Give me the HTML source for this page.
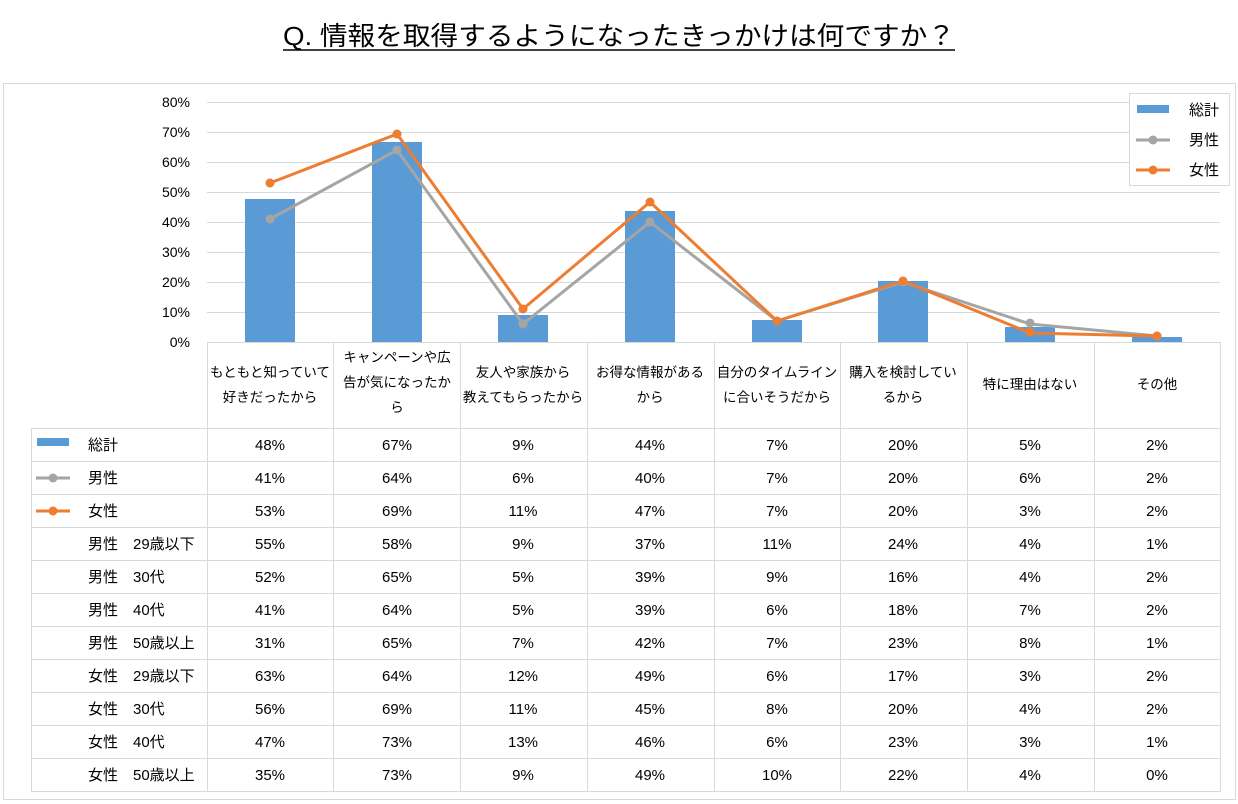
<!DOCTYPE html>
<html><head><meta charset="utf-8"><style>
body{margin:0;background:#fff;}
svg{display:block;font-family:"Liberation Sans","Noto Sans CJK JP",sans-serif;}
</style></head><body>
<svg width="1238" height="804" viewBox="0 0 1238 804" xmlns="http://www.w3.org/2000/svg">
<text x="283" y="45" font-size="26" textLength="672" lengthAdjust="spacingAndGlyphs" fill="#000">Q. 情報を取得するようになったきっかけは何ですか？</text>
<line x1="283" y1="50" x2="955" y2="50" stroke="#000" stroke-width="1.5"/>
<rect x="3.5" y="83.5" width="1232" height="716" fill="#fff" stroke="#d9d9d9"/>
<g stroke="#d9d9d9" stroke-width="1">
<line x1="207" y1="102.5" x2="1220" y2="102.5"/><line x1="207" y1="132.5" x2="1220" y2="132.5"/>
<line x1="207" y1="162.5" x2="1220" y2="162.5"/><line x1="207" y1="192.5" x2="1220" y2="192.5"/>
<line x1="207" y1="222.5" x2="1220" y2="222.5"/><line x1="207" y1="252.5" x2="1220" y2="252.5"/>
<line x1="207" y1="282.5" x2="1220" y2="282.5"/><line x1="207" y1="312.5" x2="1220" y2="312.5"/>
</g>
<g font-size="14" fill="#000" text-anchor="end">
<text x="190" y="107">80%</text><text x="190" y="137">70%</text><text x="190" y="167">60%</text>
<text x="190" y="197">50%</text><text x="190" y="227">40%</text><text x="190" y="257">30%</text>
<text x="190" y="287">20%</text><text x="190" y="317">10%</text><text x="190" y="347">0%</text>
</g>
<g fill="#5b9bd5">
<rect x="245" y="199" width="50" height="143"/>
<rect x="372" y="142" width="50" height="200"/>
<rect x="498" y="315" width="50" height="27"/>
<rect x="625" y="211" width="50" height="131"/>
<rect x="752" y="320" width="50" height="22"/>
<rect x="878" y="281" width="50" height="61"/>
<rect x="1005" y="327" width="50" height="15"/>
<rect x="1132" y="337" width="50" height="5"/>
</g>
<g fill="none" stroke-width="3" stroke-linejoin="round">
<polyline stroke="#a5a5a5" points="270,219 397,150 523,324 650,222 777,321 903,282 1030,324 1157,336"/>
<polyline stroke="#ed7d31" points="270,183 397,134 523,309 650,202 777,321 903,281 1030,333 1157,336"/>
</g>
<g fill="#a5a5a5">
<circle cx="270" cy="219" r="4.5"/><circle cx="397" cy="150" r="4.5"/><circle cx="523" cy="324" r="4.5"/><circle cx="650" cy="222" r="4.5"/><circle cx="777" cy="321" r="4.5"/><circle cx="903" cy="282" r="4.5"/><circle cx="1030" cy="323" r="4.5"/><circle cx="1157" cy="336" r="4.5"/>
</g>
<g fill="#ed7d31">
<circle cx="270" cy="183" r="4.5"/><circle cx="397" cy="134" r="4.5"/><circle cx="523" cy="309" r="4.5"/><circle cx="650" cy="202" r="4.5"/><circle cx="777" cy="321" r="4.5"/><circle cx="903" cy="281" r="4.5"/><circle cx="1030" cy="332" r="4.5"/><circle cx="1157" cy="336" r="4.5"/>
</g>
<rect x="1129.5" y="93.5" width="100" height="92" fill="#fff" stroke="#d9d9d9"/>
<rect x="1137" y="105" width="32" height="8" fill="#5b9bd5"/>
<line x1="1136" y1="140" x2="1170" y2="140" stroke="#a5a5a5" stroke-width="3"/><circle cx="1153" cy="140" r="4.5" fill="#a5a5a5"/>
<line x1="1136" y1="170" x2="1170" y2="170" stroke="#ed7d31" stroke-width="3"/><circle cx="1153" cy="170" r="4.5" fill="#ed7d31"/>
<g font-size="15" fill="#000"><text x="1189" y="115">総計</text><text x="1189" y="145">男性</text><text x="1189" y="175">女性</text></g>
<g stroke="#d9d9d9" stroke-width="1" fill="none">
<line x1="207" y1="342.5" x2="1220" y2="342.5"/>
<line x1="31" y1="428.5" x2="1220" y2="428.5"/>
<line x1="31" y1="461.5" x2="1220" y2="461.5"/><line x1="31" y1="494.5" x2="1220" y2="494.5"/>
<line x1="31" y1="527.5" x2="1220" y2="527.5"/><line x1="31" y1="560.5" x2="1220" y2="560.5"/>
<line x1="31" y1="593.5" x2="1220" y2="593.5"/><line x1="31" y1="626.5" x2="1220" y2="626.5"/>
<line x1="31" y1="659.5" x2="1220" y2="659.5"/><line x1="31" y1="692.5" x2="1220" y2="692.5"/>
<line x1="31" y1="725.5" x2="1220" y2="725.5"/><line x1="31" y1="758.5" x2="1220" y2="758.5"/>
<line x1="31" y1="791.5" x2="1220" y2="791.5"/>
<line x1="31.5" y1="428" x2="31.5" y2="792"/>
<line x1="207.5" y1="342" x2="207.5" y2="792"/><line x1="333.5" y1="342" x2="333.5" y2="792"/>
<line x1="460.5" y1="342" x2="460.5" y2="792"/><line x1="587.5" y1="342" x2="587.5" y2="792"/>
<line x1="714.5" y1="342" x2="714.5" y2="792"/><line x1="840.5" y1="342" x2="840.5" y2="792"/>
<line x1="967.5" y1="342" x2="967.5" y2="792"/><line x1="1094.5" y1="342" x2="1094.5" y2="792"/>
<line x1="1220.5" y1="342" x2="1220.5" y2="792"/>
</g>
<g font-size="13.5" fill="#000" text-anchor="middle">
<text x="270" y="377">もともと知っていて</text><text x="270" y="402">好きだったから</text>
<text x="397" y="362">キャンペーンや広</text><text x="397" y="387">告が気になったか</text><text x="397" y="412">ら</text>
<text x="523" y="377">友人や家族から</text><text x="523" y="402">教えてもらったから</text>
<text x="650" y="377">お得な情報がある</text><text x="650" y="402">から</text>
<text x="777" y="377">自分のタイムライン</text><text x="777" y="402">に合いそうだから</text>
<text x="903" y="377">購入を検討してい</text><text x="903" y="402">るから</text>
<text x="1030" y="389">特に理由はない</text>
<text x="1157" y="389">その他</text>
</g>
<rect x="37" y="438" width="32" height="8" fill="#5b9bd5"/>
<line x1="36" y1="478" x2="70" y2="478" stroke="#a5a5a5" stroke-width="3"/><circle cx="53" cy="478" r="4.5" fill="#a5a5a5"/>
<line x1="36" y1="511" x2="70" y2="511" stroke="#ed7d31" stroke-width="3"/><circle cx="53" cy="511" r="4.5" fill="#ed7d31"/>
<g font-size="15" fill="#000">
<text x="88" y="450">総計</text><text x="88" y="483">男性</text><text x="88" y="516">女性</text>
<text x="88" y="549">男性　29歳以下</text><text x="88" y="582">男性　30代</text>
<text x="88" y="615">男性　40代</text><text x="88" y="648">男性　50歳以上</text>
<text x="88" y="681">女性　29歳以下</text><text x="88" y="714">女性　30代</text>
<text x="88" y="747">女性　40代</text><text x="88" y="780">女性　50歳以上</text>
</g>
<g font-size="15" fill="#000" text-anchor="middle">
<g transform="translate(0,450)"><text x="270">48%</text><text x="397">67%</text><text x="523">9%</text><text x="650">44%</text><text x="777">7%</text><text x="903">20%</text><text x="1030">5%</text><text x="1157">2%</text></g>
<g transform="translate(0,483)"><text x="270">41%</text><text x="397">64%</text><text x="523">6%</text><text x="650">40%</text><text x="777">7%</text><text x="903">20%</text><text x="1030">6%</text><text x="1157">2%</text></g>
<g transform="translate(0,516)"><text x="270">53%</text><text x="397">69%</text><text x="523">11%</text><text x="650">47%</text><text x="777">7%</text><text x="903">20%</text><text x="1030">3%</text><text x="1157">2%</text></g>
<g transform="translate(0,549)"><text x="270">55%</text><text x="397">58%</text><text x="523">9%</text><text x="650">37%</text><text x="777">11%</text><text x="903">24%</text><text x="1030">4%</text><text x="1157">1%</text></g>
<g transform="translate(0,582)"><text x="270">52%</text><text x="397">65%</text><text x="523">5%</text><text x="650">39%</text><text x="777">9%</text><text x="903">16%</text><text x="1030">4%</text><text x="1157">2%</text></g>
<g transform="translate(0,615)"><text x="270">41%</text><text x="397">64%</text><text x="523">5%</text><text x="650">39%</text><text x="777">6%</text><text x="903">18%</text><text x="1030">7%</text><text x="1157">2%</text></g>
<g transform="translate(0,648)"><text x="270">31%</text><text x="397">65%</text><text x="523">7%</text><text x="650">42%</text><text x="777">7%</text><text x="903">23%</text><text x="1030">8%</text><text x="1157">1%</text></g>
<g transform="translate(0,681)"><text x="270">63%</text><text x="397">64%</text><text x="523">12%</text><text x="650">49%</text><text x="777">6%</text><text x="903">17%</text><text x="1030">3%</text><text x="1157">2%</text></g>
<g transform="translate(0,714)"><text x="270">56%</text><text x="397">69%</text><text x="523">11%</text><text x="650">45%</text><text x="777">8%</text><text x="903">20%</text><text x="1030">4%</text><text x="1157">2%</text></g>
<g transform="translate(0,747)"><text x="270">47%</text><text x="397">73%</text><text x="523">13%</text><text x="650">46%</text><text x="777">6%</text><text x="903">23%</text><text x="1030">3%</text><text x="1157">1%</text></g>
<g transform="translate(0,780)"><text x="270">35%</text><text x="397">73%</text><text x="523">9%</text><text x="650">49%</text><text x="777">10%</text><text x="903">22%</text><text x="1030">4%</text><text x="1157">0%</text></g>
</g>
</svg>
</body></html>
